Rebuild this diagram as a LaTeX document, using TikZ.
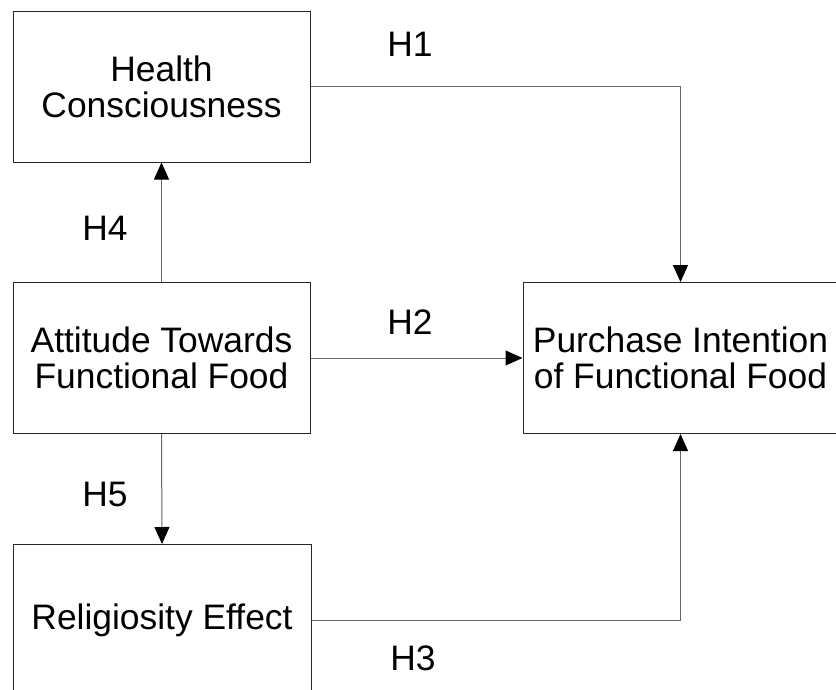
\documentclass[tikz,border=0pt]{standalone}
\usepackage{fontspec}
\setmainfont{Liberation Sans}
\usetikzlibrary{arrows.meta}
\begin{document}
\begin{tikzpicture}[x=1pt,y=-1pt,
  box/.style={draw=black!85, line width=1pt, align=center, inner sep=0pt,
    font=\fontsize{35.4}{36}\selectfont, minimum height=151pt},
  lbl/.style={inner sep=0pt, font=\fontsize{35.4}{36}\selectfont},
  conn/.style={draw=black!60, line width=1pt, -{Triangle[length=17pt,width=15pt,fill=black,color=black]}},
  plain/.style={draw=black!60, line width=1pt}]
\useasboundingbox (0,0) rectangle (836,689);
\node[box, minimum width=297pt] (hc) at (161.5,86.5) {Health\\Consciousness};
\node[box, minimum width=297pt] (at) at (161.5,358) {Attitude Towards\\Functional Food};
\node[box, minimum width=315pt] (pi) at (680.5,358) {Purchase Intention\\of Functional Food};
\node[box, minimum width=298pt] (re) at (162,620) {Religiosity Effect};
\node[lbl] (h1) at (410,44) {H1};
\node[lbl] (h2) at (410,322) {H2};
\node[lbl] (h3) at (413,658) {H3};
\node[lbl] (h4) at (105,228) {H4};
\node[lbl] (h5) at (105,494) {H5};
\draw[conn] (hc.east) -| (pi.north);
\draw[conn] (at.east) -- (pi.west);
\draw[conn] (re.east) -| (pi.south);
\draw[conn] (at.north) -- (hc.south);
\draw[conn] (at.south) -- (re.north);
\end{tikzpicture}
\end{document}
